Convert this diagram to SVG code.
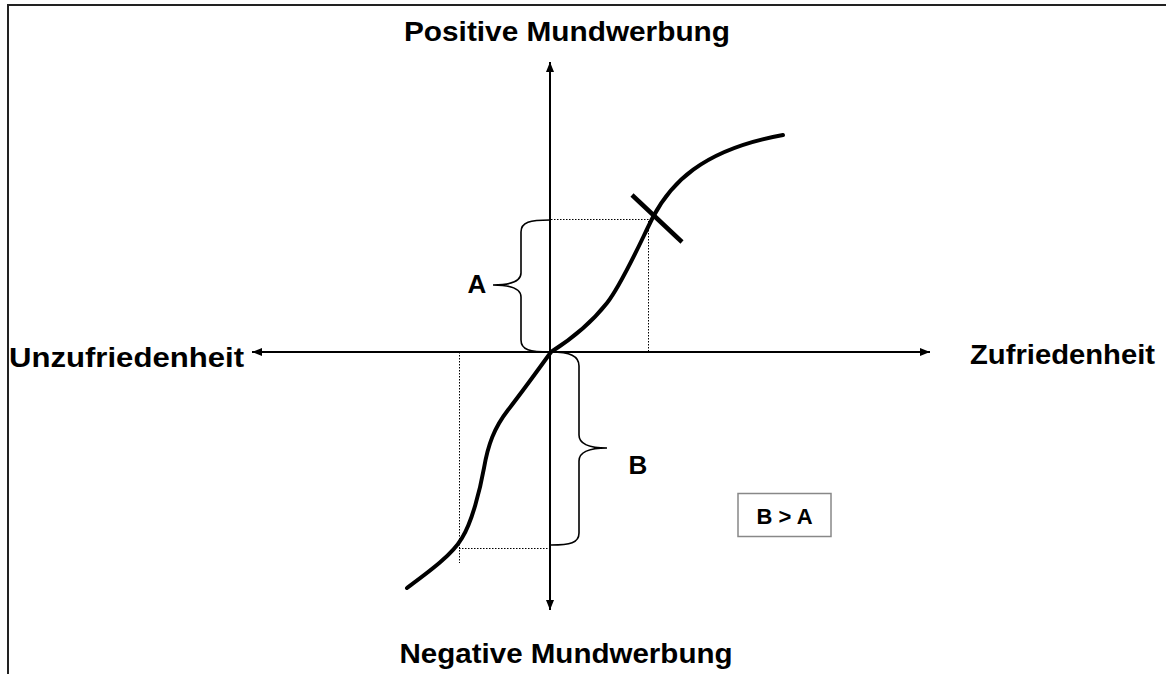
<svg xmlns="http://www.w3.org/2000/svg" width="1166" height="674" viewBox="0 0 1166 674">
<defs>
<style>
.lbl{font-family:"Liberation Sans",Arial,sans-serif;font-weight:bold;fill:#000}
.axis{stroke:#000;stroke-width:2;fill:none}
.dot{stroke:#000;stroke-width:1;stroke-dasharray:1.5,1.5;fill:none}
.brace{stroke:#000;stroke-width:1.6;fill:none}
.curve{stroke:#000;stroke-width:4;fill:none;stroke-linecap:round}
</style>
<marker id="arr" viewBox="0 0 10 10" refX="10" refY="5" markerWidth="10" markerHeight="10" markerUnits="userSpaceOnUse" orient="auto">
<path d="M0,1 L10,5 L0,9 Z" fill="#000"/>
</marker>
</defs>
<rect width="1166" height="674" fill="#fff"/>
<path d="M8,674 L8,5 L1166,5" stroke="#222" stroke-width="2" fill="none"/>
<g id="connectors">
<line class="axis" x1="550" y1="352" x2="550" y2="62" marker-end="url(#arr)"/>
<line class="axis" x1="550" y1="352" x2="550" y2="610" marker-end="url(#arr)"/>
<line class="axis" x1="550" y1="352" x2="252" y2="352" marker-end="url(#arr)"/>
<line class="axis" x1="550" y1="352" x2="930" y2="352" marker-end="url(#arr)"/>
<path class="dot" d="M551,219.5 H648.5 V352"/>
<path class="dot" d="M459.5,352 V563 M459,548.5 H550"/>
<path class="curve" d="M407,588 C430,571 452,555 462,538 C472,522 480,490 484,468 C488,445 494,428 508,410 C522,392 538,370 551,352 C570,340 592,322 607,303 C622,284 640,243 653,217 C670,185 700,150 783,135"/>
<line x1="632" y1="195" x2="682" y2="242" stroke="#000" stroke-width="4.5"/>
</g>
<g id="braceA">
<path class="brace" d="M550,220 C530,220 521,222 521,232 L521,273 C521,281 512,285 493,285 C512,285 521,289 521,297 L521,340 C521,350 530,352 550,352"/>
<text class="lbl" x="477" y="293" font-size="26" text-anchor="middle">A</text>
</g>
<g id="braceB">
<path class="brace" d="M551,352 C570,352 579,356 579,366 L579,435 C579,443 588,448 607,448 C588,448 579,453 579,461 L579,533 C579,543 570,545 551,545"/>
<text class="lbl" x="638" y="474" font-size="26" text-anchor="middle">B</text>
</g>
<g id="note">
<rect x="738" y="493.5" width="93" height="43" fill="#fff" stroke="#888" stroke-width="1.5"/>
<text class="lbl" x="784.5" y="524" font-size="22" text-anchor="middle">B &gt; A</text>
</g>
<g id="top">
<text class="lbl" x="567" y="41" font-size="28" text-anchor="middle" textLength="326" lengthAdjust="spacingAndGlyphs">Positive Mundwerbung</text>
</g>
<g id="bottom">
<text class="lbl" x="566" y="663" font-size="28" text-anchor="middle" textLength="333" lengthAdjust="spacingAndGlyphs">Negative Mundwerbung</text>
</g>
<g id="left">
<text class="lbl" x="9" y="367" font-size="28" textLength="235" lengthAdjust="spacingAndGlyphs">Unzufriedenheit</text>
</g>
<g id="right">
<text class="lbl" x="970" y="364" font-size="28" textLength="185" lengthAdjust="spacingAndGlyphs">Zufriedenheit</text>
</g>
</svg>
